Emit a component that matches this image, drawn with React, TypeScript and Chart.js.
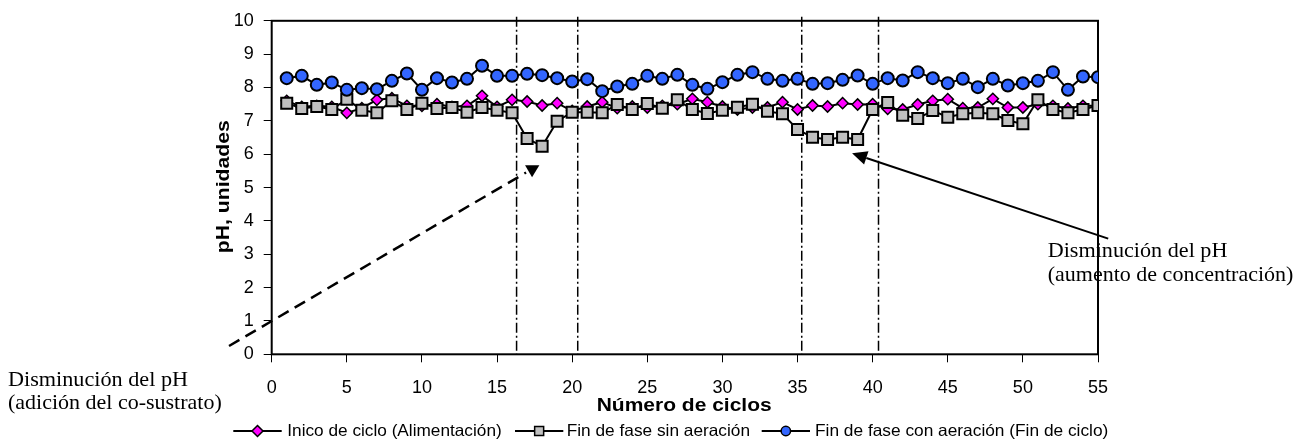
import React, { useEffect, useRef } from "react";
import { Chart, registerables } from "chart.js";

Chart.register(...registerables);

const cycles = [
  1, 2, 3, 4, 5, 6, 7, 8, 9, 10, 11, 12, 13, 14, 15, 16, 17, 18, 19, 20,
  21, 22, 23, 24, 25, 26, 27, 28, 29, 30, 31, 32, 33, 34, 35, 36, 37, 38, 39, 40,
  41, 42, 43, 44, 45, 46, 47, 48, 49, 50, 51, 52, 53, 54, 55,
];

const inicioCiclo = [
  7.6, 7.42, 7.45, 7.42, 7.24, 7.38, 7.63, 7.68, 7.45, 7.45,
  7.5, 7.42, 7.45, 7.75, 7.42, 7.63, 7.58, 7.46, 7.53, 7.3,
  7.43, 7.56, 7.38, 7.43, 7.4, 7.45, 7.5, 7.66, 7.56, 7.43,
  7.34, 7.4, 7.4, 7.56, 7.34, 7.46, 7.43, 7.53, 7.49, 7.5,
  7.36, 7.34, 7.49, 7.6, 7.65, 7.38, 7.4, 7.66, 7.4, 7.4,
  7.5, 7.45, 7.37, 7.45, 7.45,
];

const finSinAeracion = [
  7.53, 7.37, 7.43, 7.34, 7.65, 7.32, 7.24, 7.6, 7.34, 7.53,
  7.37, 7.4, 7.26, 7.4, 7.32, 7.24, 6.47, 6.24, 6.99, 7.26,
  7.26, 7.24, 7.49, 7.34, 7.52, 7.38, 7.63, 7.34, 7.22, 7.32,
  7.41, 7.5, 7.29, 7.21, 6.74, 6.51, 6.44, 6.51, 6.44, 7.34,
  7.55, 7.17, 7.07, 7.31, 7.11, 7.21, 7.24, 7.21, 7.01, 6.91,
  7.63, 7.34, 7.24, 7.34, 7.46,
];

const finConAeracion = [
  8.28, 8.35, 8.08, 8.15, 7.93, 7.98, 7.95, 8.2, 8.42, 7.93,
  8.28, 8.15, 8.26, 8.65, 8.35, 8.35, 8.41, 8.37, 8.28, 8.18,
  8.25, 7.89, 8.03, 8.11, 8.35, 8.26, 8.38, 8.08, 7.96, 8.16,
  8.38, 8.46, 8.26, 8.2, 8.26, 8.11, 8.13, 8.23, 8.36, 8.11,
  8.28, 8.21, 8.46, 8.28, 8.13, 8.26, 8.01, 8.26, 8.06, 8.13,
  8.2, 8.46, 7.93, 8.33, 8.31,
];

const seriesLabels = [
  "Inico de ciclo (Alimentación)",
  "Fin de fase sin aeración",
  "Fin de fase con aeración (Fin de ciclo)",
];

const xTickValues = [0, 5, 10, 15, 20, 25, 30, 35, 40, 45, 50, 55];
const yTickValues = [0, 1, 2, 3, 4, 5, 6, 7, 8, 9, 10];

// cycle positions of the dash-dot phase separators
const phaseLines = [16.3, 20.37, 35.28, 40.39];

// annotation arrows (data coordinates)
const dashedArrowFrom = [-2.84, 0.25];
const dashedArrowTo = [16.93, 5.45];
const dashedArrowHead = [17.33, 5.55];
const solidArrowFrom = [55.68, 3.47];
const solidArrowTo = [38.63, 6.03];

const annLeft = ["Disminución del pH", "(adición del co-sustrato)"];
const annRight = ["Disminución del pH", "(aumento de concentración)"];

const SANS = "'Liberation Sans', Arial, sans-serif";
const SERIF = "'Liberation Serif', 'Times New Roman', serif";

function fitText(ctx: CanvasRenderingContext2D, text: string, x: number, y: number, width: number, font: string) {
  ctx.save();
  ctx.font = font;
  ctx.textAlign = "left";
  ctx.textBaseline = "middle";
  const w = ctx.measureText(text).width;
  ctx.translate(x, y);
  ctx.scale(width / w, 1);
  ctx.fillStyle = "#000";
  ctx.fillText(text, 0, 0);
  ctx.restore();
}

function drawMarker(ctx: CanvasRenderingContext2D, kind: string, x: number, y: number, fill: string) {
  ctx.save();
  ctx.fillStyle = fill;
  ctx.strokeStyle = "#000";
  ctx.lineWidth = 1.5;
  ctx.beginPath();
  if (kind === "diamond") {
    ctx.moveTo(x, y - 5.5);
    ctx.lineTo(x + 5.5, y);
    ctx.lineTo(x, y + 5.5);
    ctx.lineTo(x - 5.5, y);
    ctx.closePath();
  } else if (kind === "square") {
    ctx.rect(x - 4.5, y - 4.5, 9, 9);
  } else {
    ctx.arc(x, y, 4.7, 0, Math.PI * 2);
  }
  ctx.fill();
  ctx.stroke();
  ctx.restore();
}

const decorPlugin = {
  id: "decor",
  beforeDatasetsDraw(chart: any) {
    const ctx: CanvasRenderingContext2D = chart.ctx;
    const a = chart.chartArea;
    const xs = chart.scales.x;
    ctx.save();
    // phase lines
    ctx.strokeStyle = "#000";
    ctx.lineWidth = 1.5;
    ctx.setLineDash([10, 3, 2, 3]);
    phaseLines.forEach((v) => {
      const px = xs.getPixelForValue(v);
      ctx.beginPath();
      ctx.moveTo(px, a.top - 4);
      ctx.lineTo(px, a.bottom);
      ctx.stroke();
    });
    ctx.setLineDash([]);
    // frame
    ctx.lineWidth = 2;
    ctx.strokeRect(a.left, a.top, a.right - a.left, a.bottom - a.top);
    ctx.restore();
  },
  afterDraw(chart: any) {
    const ctx: CanvasRenderingContext2D = chart.ctx;
    const xs = chart.scales.x;
    const ys = chart.scales.y;
    const P = (p: number[]) => [xs.getPixelForValue(p[0]), ys.getPixelForValue(p[1])];

    ctx.save();
    // dashed arrow
    const [dx1, dy1] = P(dashedArrowFrom);
    const [dx2, dy2] = P(dashedArrowTo);
    ctx.strokeStyle = "#000";
    ctx.lineWidth = 2.5;
    ctx.setLineDash([12, 7]);
    ctx.beginPath();
    ctx.moveTo(dx1, dy1);
    ctx.lineTo(dx2, dy2);
    ctx.stroke();
    ctx.setLineDash([]);
    const [hx, hy] = P(dashedArrowHead);
    ctx.fillStyle = "#000";
    ctx.beginPath();
    ctx.moveTo(hx - 7, hy - 4);
    ctx.lineTo(hx + 7.3, hy - 4);
    ctx.lineTo(hx, hy + 8);
    ctx.closePath();
    ctx.fill();

    // solid arrow
    const [sx1, sy1] = P(solidArrowFrom);
    const [sx2, sy2] = P(solidArrowTo);
    const ang = Math.atan2(sy2 - sy1, sx2 - sx1);
    const hl = 15, hw = 7;
    const bx = sx2 - Math.cos(ang) * hl;
    const by = sy2 - Math.sin(ang) * hl;
    ctx.lineWidth = 2;
    ctx.beginPath();
    ctx.moveTo(sx1, sy1);
    ctx.lineTo(bx, by);
    ctx.stroke();
    ctx.beginPath();
    ctx.moveTo(sx2, sy2);
    ctx.lineTo(bx + Math.sin(ang) * hw, by - Math.cos(ang) * hw);
    ctx.lineTo(bx - Math.sin(ang) * hw, by + Math.cos(ang) * hw);
    ctx.closePath();
    ctx.fill();
    ctx.restore();

    // annotation texts
    const sf = "21px " + SERIF;
    fitText(ctx, annLeft[0], 8, 380, 180, sf);
    fitText(ctx, annLeft[1], 8, 403, 213.7, sf);
    fitText(ctx, annRight[0], 1047.7, 251.7, 179.7, sf);
    fitText(ctx, annRight[1], 1047.7, 275.5, 245.7, sf);

    // axis titles
    fitText(ctx, "Número de ciclos", 596.7, 406, 175, "bold 19px " + SANS);
    ctx.save();
    ctx.translate(224, 186.7);
    ctx.rotate(-Math.PI / 2);
    fitText(ctx, "pH, unidades", -66.5, 0, 133, "bold 19px " + SANS);
    ctx.restore();

    // legend
    const ly = 431;
    const items = [
      { x1: 233.3, x2: 281.7, kind: "diamond", fill: "#FF00FF", tx: 287.3, tw: 214.4 },
      { x1: 515, x2: 563.3, kind: "square", fill: "#C0C0C0", tx: 566.7, tw: 183.3 },
      { x1: 761.7, x2: 810, kind: "circle", fill: "#3366FF", tx: 815, tw: 293.3 },
    ];
    items.forEach((it, i) => {
      ctx.save();
      ctx.strokeStyle = "#000";
      ctx.lineWidth = 2;
      ctx.beginPath();
      ctx.moveTo(it.x1, ly);
      ctx.lineTo(it.x2, ly);
      ctx.stroke();
      ctx.restore();
      drawMarker(ctx, it.kind, (it.x1 + it.x2) / 2, ly, it.fill);
      fitText(ctx, seriesLabels[i], it.tx, ly + 0.5, it.tw, "16.5px " + SANS);
    });
  },
};

export default function App() {
  const ref = useRef<HTMLCanvasElement | null>(null);

  useEffect(() => {
    if (!ref.current) return;
    const mk = (vals: number[]) => cycles.map((c, i) => ({ x: c, y: vals[i] }));
    const tickFont = { family: SANS, size: 18 };
    const chart = new Chart(ref.current, {
      type: "line",
      data: {
        datasets: [
          {
            label: seriesLabels[0],
            data: mk(inicioCiclo),
            order: 3,
            borderColor: "#000",
            borderWidth: 2,
            pointStyle: "rectRot",
            pointRadius: 5.6,
            pointBackgroundColor: "#FF00FF",
            pointBorderColor: "#000",
            pointBorderWidth: 1.5,
          },
          {
            label: seriesLabels[1],
            data: mk(finSinAeracion),
            order: 2,
            borderColor: "#000",
            borderWidth: 2,
            pointStyle: "rect",
            pointRadius: 7.8,
            pointBackgroundColor: "#C0C0C0",
            pointBorderColor: "#000",
            pointBorderWidth: 2,
          },
          {
            label: seriesLabels[2],
            data: mk(finConAeracion),
            order: 1,
            borderColor: "#000",
            borderWidth: 2,
            pointStyle: "circle",
            pointRadius: 6,
            pointBackgroundColor: "#3366FF",
            pointBorderColor: "#000",
            pointBorderWidth: 2,
          },
        ] as any,
      },
      options: {
        animation: false,
        responsive: false,
        devicePixelRatio: 1,
        layout: { padding: { left: 0, top: 19, right: 208, bottom: 0 } },
        plugins: { legend: { display: false }, tooltip: { enabled: false } },
        scales: {
          x: {
            type: "linear",
            min: 0,
            max: 55,
            afterFit: (s: any) => {
              s.height = 87.7;
            },
            afterBuildTicks: (s: any) => {
              s.ticks = xTickValues.map((v) => ({ value: v }));
            },
            ticks: { font: tickFont, color: "#000", padding: 15, maxRotation: 0, autoSkip: false },
            grid: { drawOnChartArea: false, drawTicks: true, tickLength: 8, tickColor: "#000", tickWidth: 1 },
            border: { display: false },
          },
          y: {
            type: "linear",
            min: 0,
            max: 10,
            afterFit: (s: any) => {
              s.width = 271.7;
            },
            afterBuildTicks: (s: any) => {
              s.ticks = yTickValues.map((v) => ({ value: v }));
            },
            ticks: { font: tickFont, color: "#000", padding: 10, autoSkip: false },
            grid: { drawOnChartArea: false, drawTicks: true, tickLength: 8, tickColor: "#000", tickWidth: 1 },
            border: { display: false },
          },
        },
      } as any,
      plugins: [decorPlugin],
    });
    return () => chart.destroy();
  }, []);

  return (
    <div style={{ position: "absolute", left: 0, top: 0, width: 1306, height: 442, background: "#fff" }}>
      <canvas ref={ref} width={1306} height={442} style={{ width: 1306, height: 442, display: "block" }} />
    </div>
  );
}
